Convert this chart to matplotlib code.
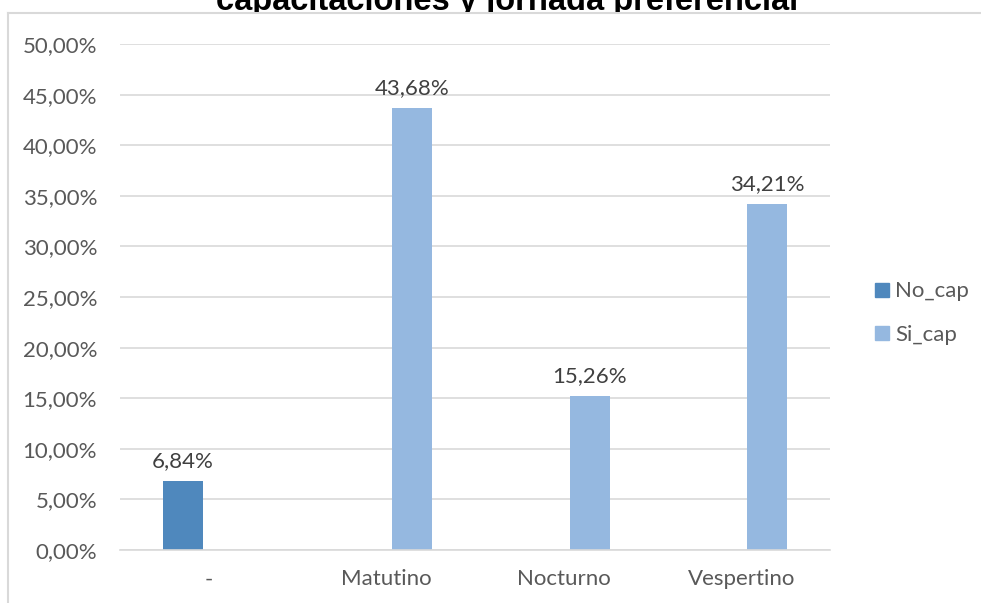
import matplotlib
matplotlib.use("Agg")
import matplotlib.pyplot as plt
from matplotlib.lines import Line2D
from matplotlib.ticker import FuncFormatter
from matplotlib.transforms import Bbox
import numpy as np

CATEGORIES = ["-", "Matutino", "Nocturno", "Vespertino"]
NO_CAP = [6.84, 0.0, 0.0, 0.0]
SI_CAP = [0.0, 43.68, 15.26, 34.21]
YTICKS = [0, 5, 10, 15, 20, 25, 30, 35, 40, 45, 50]
TITLE = "capacitaciones y jornada preferencial"

C_NO = "#4F88BD"
C_SI = "#95B8E0"
GRID = "#D9D9D9"
TXT = "#595959"

plt.rcParams["font.family"] = ["Lato", "DejaVu Sans"]

W, H = 981, 603
fig = plt.figure(figsize=(W / 100, H / 100), dpi=100)
ax = fig.add_axes([120 / W, 53 / H, 710 / W, 506 / H])

x = np.arange(len(CATEGORIES))
w = 40 / 177.5
off = 26 / 177.5
ax.bar(x - off, NO_CAP, width=w, color=C_NO, label="No_cap", zorder=2)
ax.bar(x + off, SI_CAP, width=w, color=C_SI, label="Si_cap", zorder=2)


def pct(v):
    return f"{v:.2f}".replace(".", ",") + "%"


for xs, vals in ((x - off, NO_CAP), (x + off, SI_CAP)):
    for xi, v in zip(xs, vals):
        if v > 0:
            ax.annotate(pct(v), (xi, v), xytext=(0, 10), textcoords="offset points",
                        ha="center", va="baseline", fontsize=16, color="#404040")

ax.set_xlim(-0.5, len(CATEGORIES) - 0.5)
ax.set_ylim(0, 50)
ax.set_yticks(YTICKS)
ax.yaxis.set_major_formatter(FuncFormatter(lambda v, _: pct(v)))
ax.set_xticks(x)
ax.set_xticklabels(CATEGORIES)
ax.tick_params(axis="both", length=0, labelsize=16, labelcolor=TXT)
ax.tick_params(axis="y", pad=16.5)
ax.tick_params(axis="x", pad=14)
ax.grid(True, axis="y", color=GRID, linewidth=1.2, zorder=0)
ax.set_axisbelow(True)
for s in ["top", "right", "left"]:
    ax.spines[s].set_visible(False)
ax.spines["bottom"].set_color(GRID)
ax.spines["bottom"].set_linewidth(1.2)

handles = [
    Line2D([0], [0], marker="s", linestyle="none", markersize=10.5, color=C_NO, label="No_cap"),
    Line2D([0], [0], marker="s", linestyle="none", markersize=10.5, color=C_SI, label="Si_cap"),
]
fig.legend(handles=handles, loc="center left", bbox_to_anchor=(855 / W, (H - 313) / H),
           frameon=False, fontsize=16, handlelength=0.6, handletextpad=0.3,
           labelspacing=1.05, labelcolor=TXT)

# outer frame lines of the chart box
fig.add_artist(Line2D([8 / W, 1], [1 - 13 / H, 1 - 13 / H], color=GRID, linewidth=1.5,
                      transform=fig.transFigure))
fig.add_artist(Line2D([8 / W, 8 / W], [0, 1 - 13 / H], color=GRID, linewidth=1.5,
                      transform=fig.transFigure))

title = fig.text(507 / W, 1 - 10 / H, TITLE, ha="center", va="baseline", fontsize=23.5,
                 fontweight="bold", family="Liberation Sans", color="black")
title.set_clip_box(Bbox([[0, H - 12], [W, H + 50]]))
title.set_clip_on(True)

fig.savefig("out.png", dpi=100, facecolor="white")
